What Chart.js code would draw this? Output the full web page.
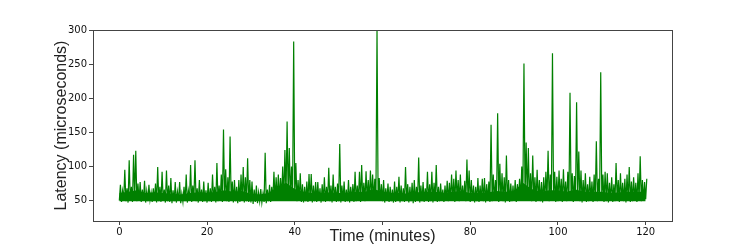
<!DOCTYPE html>
<html>
<head>
<meta charset="utf-8">
<script src="https://cdn.jsdelivr.net/npm/chart.js@4"></script>
<style>
  html, body { margin: 0; padding: 0; background: #fff; }
  #wrap { width: 747px; height: 249px; }
</style>
</head>
<body>
<div id="wrap"><canvas id="latencyChart" width="747" height="249"></canvas></div>
<script>
// Latency over a 2 hour run, every half minute.
// peaks = top of the trace in that half minute, troughs = bottom of it.
const STEP = 0.5;
const BAND_STEP = 2;
const xTicks = [0, 20, 40, 60, 80, 100, 120];
const xTickLabels = ['0', '20', '40', '', '80', '100', '120']; // 60 sits under the axis title
const yTicks = [50, 100, 150, 200, 250, 300];

const peaks = [
  73, 64, 95, 68, 109, 70, 117, 123, 75, 77,
  66, 79, 64, 73, 62, 68, 75, 99, 70, 92,
  66, 94, 72, 83, 65, 77, 63, 77, 60, 70,
  88, 64, 102, 72, 109, 68, 80, 66, 78, 65,
  76, 68, 88, 70, 105, 72, 88, 154, 96, 84,
  144, 78, 80, 70, 80, 88, 99, 84, 112, 80,
  78, 66, 72, 62, 67, 60, 120, 66, 73, 70,
  92, 84, 88, 83, 100, 124, 166, 127, 100, 283,
  105, 80, 90, 74, 70, 78, 89, 89, 72, 77,
  77, 68, 74, 84, 70, 98, 72, 88, 70, 75,
  133, 72, 78, 66, 80, 70, 74, 92, 72, 92,
  102, 76, 93, 80, 94, 88, 82, 300, 83, 74,
  80, 68, 75, 70, 66, 78, 70, 85, 72, 68,
  99, 74, 70, 76, 80, 70, 113, 72, 77, 68,
  92, 74, 92, 76, 102, 70, 75, 66, 72, 79,
  76, 88, 82, 94, 80, 88, 72, 79, 110, 94,
  80, 72, 70, 83, 72, 82, 83, 74, 78, 161,
  88, 80, 178, 104, 90, 84, 116, 80, 75, 72,
  80, 74, 82, 100, 251, 135, 127, 90, 116, 84,
  95, 80, 77, 84, 92, 123, 88, 266, 92, 85,
  94, 82, 96, 78, 92, 208, 90, 86, 194, 122,
  94, 80, 90, 74, 85, 78, 88, 137, 82, 238,
  88, 92, 90, 76, 84, 74, 105, 80, 90, 76,
  82, 88, 99, 78, 84, 76, 90, 115, 80, 77,
  82
];

const troughs = [
  50, 48, 51, 49, 47, 50, 48, 52, 49, 50,
  48, 50, 47, 49, 51, 48, 50, 47, 49, 48,
  50, 47, 49, 48, 46, 49, 47, 50, 46, 48,
  49, 47, 50, 48, 51, 49, 47, 50, 48, 49,
  47, 49, 48, 50, 47, 49, 51, 48, 50, 49,
  48, 50, 47, 49, 46, 48, 50, 47, 49, 48,
  47, 45, 48, 46, 49, 47, 48, 46, 49, 48,
  50, 52, 51, 53, 54, 52, 55, 53, 54, 52,
  51, 49, 50, 48, 47, 49, 48, 50, 47, 49,
  48, 50, 47, 49, 48, 50, 49, 47, 50, 48,
  49, 47, 50, 48, 49, 47, 50, 48, 49, 50,
  48, 50, 49, 51, 50, 53, 52, 54, 51, 50,
  49, 47, 50, 48, 49, 47, 48, 50, 47, 49,
  48, 50, 47, 49, 46, 48, 50, 47, 49, 48,
  50, 48, 49, 47, 50, 48, 49, 51, 48, 50,
  49, 51, 50, 48, 52, 49, 50, 51, 49, 50,
  48, 50, 47, 49, 48, 50, 49, 47, 50, 48,
  49, 51, 50, 48, 50, 49, 47, 50, 48, 49,
  50, 48, 51, 53, 55, 54, 52, 50, 49, 51,
  48, 50, 49, 47, 50, 52, 49, 51, 50, 48,
  49, 51, 48, 50, 49, 52, 50, 48, 51, 50,
  49, 47, 50, 48, 49, 51, 48, 50, 49, 52,
  50, 48, 49, 47, 50, 48, 49, 51, 48, 50,
  49, 47, 50, 48, 49, 51, 48, 50, 49, 50,
  52
];

// top of the solid part of the trace, every 2 minutes
const bandTop = [
  61, 63, 65, 61, 62, 61, 60, 59, 61, 62,
  61, 63, 65, 63, 64, 60, 59, 61, 70, 76,
  67, 63, 61, 61, 62, 61, 61, 63, 63, 67,
  63, 61, 61, 60, 62, 63, 63, 61, 63, 64,
  61, 61, 62, 64, 63, 64, 76, 67, 63, 65,
  65, 63, 66, 63, 63, 63, 61, 62, 63, 63,
  63
];
const BAND_FLOOR = 49;

// trace goes bottom -> top inside every half-minute slot
const points = [];
troughs.forEach((lo, i) => {
  points.push({ x: i * STEP, y: lo });
  points.push({ x: i * STEP + STEP / 2, y: peaks[i] });
});
const bandPoints = bandTop.map((v, i) => ({ x: i * BAND_STEP, y: v }));

const tickFont = { family: 'DejaVu Sans', size: 10 };
const titleFont = { family: 'Liberation Sans', size: 16 };

// matplotlib style box round the plot
const frame = {
  id: 'frame',
  afterDraw(chart) {
    const { ctx, chartArea: a } = chart;
    ctx.save();
    ctx.strokeStyle = '#444';
    ctx.lineWidth = 1;
    ctx.strokeRect(Math.round(a.left) + 0.5, Math.round(a.top) + 0.5,
      Math.round(a.right - a.left), Math.round(a.bottom - a.top));
    ctx.restore();
  }
};

new Chart(document.getElementById('latencyChart'), {
  type: 'line',
  data: {
    datasets: [{
      data: points,
      borderColor: '#008000',
      borderWidth: 1.2,
      pointRadius: 0,
      tension: 0,
      fill: false
    }, {
      data: bandPoints,
      borderColor: '#008000',
      backgroundColor: '#008000',
      borderWidth: 0,
      pointRadius: 0,
      tension: 0,
      fill: { value: BAND_FLOOR }
    }]
  },
  options: {
    responsive: false,
    animation: false,
    parsing: false,
    layout: { padding: { top: 30, right: 75, left: 0, bottom: 0 } },
    plugins: { legend: { display: false }, tooltip: { enabled: false } },
    scales: {
      x: {
        type: 'linear',
        min: -6,
        max: 126,
        afterBuildTicks: axis => { axis.ticks = xTicks.map(v => ({ value: v })); },
        afterFit: axis => { axis.height = 28; },
        grid: { drawOnChartArea: false, drawTicks: true, tickLength: 4, color: '#444' },
        border: { display: false },
        ticks: {
          font: tickFont, color: '#111', padding: 1, maxRotation: 0,
          callback: (v, i) => xTickLabels[i]
        },
        title: { display: true, text: 'Time (minutes)', font: titleFont, color: '#222',
          padding: { top: 0, bottom: 3 } }
      },
      y: {
        min: 20,
        max: 300,
        afterBuildTicks: axis => { axis.ticks = yTicks.map(v => ({ value: v })); },
        afterFit: axis => { axis.width = 93; },
        grid: { drawOnChartArea: false, drawTicks: true, tickLength: 4, color: '#444' },
        border: { display: false },
        ticks: { font: tickFont, color: '#111', padding: 2 },
        title: { display: true, text: 'Latency (microseconds)', font: titleFont, color: '#222',
          padding: { top: 52, bottom: 0 } }
      }
    }
  },
  plugins: [frame]
});
</script>
</body>
</html>
